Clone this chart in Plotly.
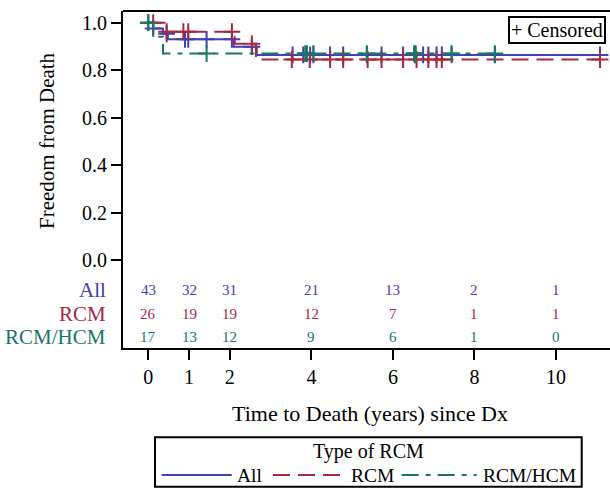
import plotly.graph_objects as go

# ---------------- data ----------------
groups = ["All", "RCM", "RCM/HCM"]

all_times = [0, 0.12, 0.36, 0.48, 2.09, 2.66, 11.08]
all_surv = [1.0, 0.976, 0.953, 0.930, 0.899, 0.864, 0.864]
all_cens = [0, 0.12, 0.45, 0.90, 0.98, 1.43, 2.05, 2.54, 3.54, 3.80, 3.97, 4.05,
            4.46, 4.78, 5.36, 5.72, 6.25, 6.54, 6.74, 6.87, 7.07, 7.20, 7.44, 8.50, 11.08]

rcm_times = [0, 0.40, 2.12, 2.64, 11.08]
rcm_surv = [1.0, 0.962, 0.911, 0.845, 0.845]
rcm_cens = [0.12, 0.45, 0.86, 0.98, 2.05, 2.54, 3.52, 3.96, 4.46, 4.78, 5.38, 5.72,
            6.25, 6.58, 6.87, 7.07, 7.20, 11.08]

hcm_times = [0, 0.12, 0.36, 8.50]
hcm_surv = [1.0, 0.941, 0.870, 0.870]
hcm_cens = [0, 1.43, 3.85, 3.89, 4.05, 5.36, 6.52, 6.56, 7.44, 8.50]

risk_times = [0, 1, 2, 4, 6, 8, 10]
risk_all = [43, 32, 31, 21, 13, 2, 1]
risk_rcm = [26, 19, 19, 12, 7, 1, 1]
risk_hcm = [17, 13, 12, 9, 6, 1, 0]

x_ticks = [0, 1, 2, 4, 6, 8, 10]
y_ticks = [0.0, 0.2, 0.4, 0.6, 0.8, 1.0]

# ---------------- styling ----------------
FONT = "Liberation Serif"
C_ALL = "#4040b8"
C_RCM = "#a8283f"
C_HCM = "#1b7565"
DASH_RCM = "17px,8px"
DASH_HCM = "17px,7px,5px,7px"

W, H = 610, 488
L, R, T, B = 123, 0, 11, 140
PW, PH = W - L - R, H - T - B


def px(xp):
    return (xp - L) / PW


def py(yp):
    return (H - B - yp) / PH


def surv_at(times, surv, t):
    s = surv[0]
    for ti, si in zip(times, surv):
        if ti <= t:
            s = si
    return s


fig = go.Figure()

series = [
    (all_times, all_surv, all_cens, C_ALL, "solid"),
    (rcm_times, rcm_surv, rcm_cens, C_RCM, DASH_RCM),
    (hcm_times, hcm_surv, hcm_cens, C_HCM, DASH_HCM),
]
for name, (tt, ss, cc, col, dash) in zip(groups, series):
    fig.add_trace(go.Scatter(x=tt, y=ss, mode="lines", name=name,
                             line=dict(color=col, width=2, dash=dash, shape="hv"),
                             showlegend=False, hoverinfo="skip"))
    fig.add_trace(go.Scatter(x=cc, y=[surv_at(tt, ss, c) for c in cc], mode="markers",
                             marker=dict(symbol="cross-thin", size=12,
                                         line=dict(color=col, width=2)),
                             showlegend=False, hoverinfo="skip"))


def note(x, y, text, size=20, color="black", xref="paper", yref="paper",
         xanchor="center", yanchor="middle", **kw):
    fig.add_annotation(x=x, y=y, xref=xref, yref=yref, text=text, showarrow=False,
                       xanchor=xanchor, yanchor=yanchor,
                       font=dict(family=FONT, size=size, color=color), **kw)


# at-risk table
rows = [("All", risk_all, C_ALL, -0.126), ("RCM", risk_rcm, C_RCM, -0.228),
        ("RCM/HCM", risk_hcm, C_HCM, -0.324)]
for label, vals, col, yv in rows:
    note(px(108), yv, label, size=21, color=col, yref="y", xanchor="right")
    for t, v in zip(risk_times, vals):
        note(t, yv, str(v), size=15, color=col, xref="x", yref="y")

# axis titles
note(px(47), py(141), "Freedom from Death", size=21, textangle=-90)
note(px(370), py(413), "Time to Death (years) since Dx", size=22)

# censored box
note(px(557), py(29.7), "+ Censored", size=20, bordercolor="black",
     borderwidth=2, borderpad=1, bgcolor="white")

# legend (manual)
shapes = [dict(type="line", xref="paper", yref="paper", x0=0, x1=1, y0=1, y1=1,
               line=dict(color="black", width=2)),
          dict(type="rect", xref="paper", yref="paper", x0=px(155), x1=px(581.7),
               y0=py(486.7), y1=py(437.3), line=dict(color="black", width=2))]
leg_items = [("All", C_ALL, "solid", 161.7, 231.7, 235),
             ("RCM", C_RCM, DASH_RCM, 273, 341.7, 349),
             ("RCM/HCM", C_HCM, DASH_HCM, 401.7, 476.7, 480.5)]
for name, col, dash, x0, x1, tx in leg_items:
    shapes.append(dict(type="line", xref="paper", yref="paper", x0=px(x0), x1=px(x1),
                       y0=py(475), y1=py(475), line=dict(color=col, width=2, dash=dash)))
    note(px(tx), py(475), name, size=19.5, xanchor="left")
note(px(368), py(451.7), "Type of RCM", size=20)

x0v = -(148.3 - L) / 40.77
x1v = x0v + PW / 40.77
y_px_per = 237.3
y0v = -(H - B - 260) / y_px_per
y1v = (260 - T) / y_px_per

fig.update_layout(
    width=W, height=H, margin=dict(l=L, r=R, t=T, b=B),
    paper_bgcolor="white", plot_bgcolor="white",
    font=dict(family=FONT, color="black"),
    shapes=shapes,
    xaxis=dict(range=[x0v, x1v], tickvals=x_ticks, ticktext=[str(v) for v in x_ticks],
               showgrid=False, zeroline=False, showline=True, linecolor="black",
               linewidth=2, ticks="outside", ticklen=10, tickwidth=2, tickcolor="black",
               tickfont=dict(family=FONT, size=20, color="black")),
    yaxis=dict(range=[y0v, y1v], tickvals=y_ticks, tickformat=".1f",
               showgrid=False, zeroline=False, showline=True, linecolor="black",
               linewidth=2, ticks="outside", ticklen=10, tickwidth=2, tickcolor="black",
               tickfont=dict(family=FONT, size=20, color="black")),
)

fig.write_html("out.html", config={"displayModeBar": False},
               post_script="document.body.style.margin='0';document.body.style.overflow='hidden';")
